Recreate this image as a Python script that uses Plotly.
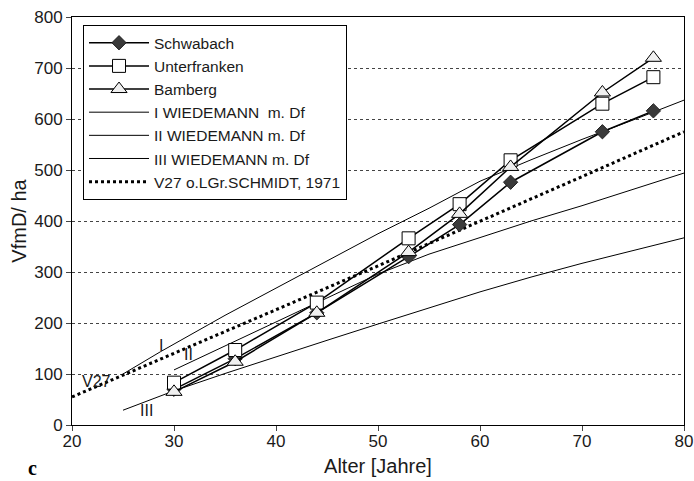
import plotly.graph_objects as go

# Data
ages = [30, 36, 44, 53, 58, 63, 72, 77]
schwabach = [70, 130, 220, 330, 393, 476, 575, 616]
unterfranken = [83, 147, 240, 366, 433, 519, 630, 682]
bamberg = [65, 124, 220, 339, 414, 506, 652, 720]

wied_I_x = [25, 28.7, 35, 40, 45, 50, 55, 60, 65, 70, 75, 80]
wied_I_y = [100, 144, 215, 268, 322, 375, 425, 478, 520, 560, 598, 637]
wied_II_x = [30, 35, 40, 45, 50, 55, 60, 65, 70, 75, 80]
wied_II_y = [108, 155, 203, 250, 296, 335, 368, 400, 430, 462, 494]
wied_III_x = [25, 30, 35, 40, 45, 50, 55, 60, 65, 70, 75, 80]
wied_III_y = [29, 67, 101, 134, 166, 198, 230, 261, 290, 317, 342, 367]
v27_x = [20, 30, 40, 50, 60, 70, 80]
v27_y = [55, 140, 226, 312, 399, 487, 575]

x_ticks = [20, 30, 40, 50, 60, 70, 80]
y_ticks = [0, 100, 200, 300, 400, 500, 600, 700, 800]

FONT = "Liberation Sans, Arial, sans-serif"
TXT = "#1a1a1a"

fig = go.Figure()

# Reference curves (drawn below data)
fig.add_trace(go.Scatter(x=wied_I_x, y=wied_I_y, mode="lines", name="I WIEDEMANN  m. Df",
                         line=dict(color="black", width=1), legendrank=4))
fig.add_trace(go.Scatter(x=wied_II_x, y=wied_II_y, mode="lines", name="II WIEDEMANN m. Df",
                         line=dict(color="black", width=1), legendrank=5))
fig.add_trace(go.Scatter(x=wied_III_x, y=wied_III_y, mode="lines", name="III WIEDEMANN m. Df",
                         line=dict(color="black", width=1), legendrank=6))
fig.add_trace(go.Scatter(x=v27_x, y=v27_y, mode="lines", name="V27 o.LGr.SCHMIDT, 1971",
                         line=dict(color="black", width=3, dash="dot"), legendrank=7))

# Data series
fig.add_trace(go.Scatter(x=ages, y=schwabach, mode="lines+markers", name="Schwabach",
                         line=dict(color="black", width=1.5),
                         marker=dict(symbol="diamond", size=11, color="#3a3a3a",
                                     line=dict(color="#222", width=1)), legendrank=1))
fig.add_trace(go.Scatter(x=ages, y=unterfranken, mode="lines+markers", name="Unterfranken",
                         line=dict(color="black", width=1.5),
                         marker=dict(symbol="square", size=13, color="white",
                                     line=dict(color="black", width=1)), legendrank=2))
fig.add_trace(go.Scatter(x=ages, y=bamberg, mode="lines+markers", name="Bamberg",
                         line=dict(color="black", width=1.5),
                         marker=dict(symbol="triangle-up", size=14, color="#f0f0f0",
                                     line=dict(color="black", width=1)), legendrank=3))

annots = [
    dict(x=28.7, y=155, text="I"),
    dict(x=31.4, y=138, text="II"),
    dict(x=27.3, y=28, text="III"),
    dict(x=22.4, y=86, text="V27"),
]
for a in annots:
    fig.add_annotation(x=a["x"], y=a["y"], text=a["text"], showarrow=False,
                       xref="x", yref="y", font=dict(family=FONT, size=16, color=TXT))

fig.add_annotation(x=-0.064, y=-0.105, xref="paper", yref="paper", text="<b>c</b>",
                   showarrow=False, xanchor="center", yanchor="middle",
                   font=dict(family="Liberation Serif, Times New Roman, serif", size=20, color="black"))

fig.update_layout(
    width=694, height=481,
    margin=dict(l=72, r=10, t=17, b=56, autoexpand=False),
    paper_bgcolor="white", plot_bgcolor="white",
    font=dict(family=FONT, size=16, color=TXT),
    showlegend=True,
    legend=dict(x=0.018, y=0.98, xanchor="left", yanchor="top",
                bgcolor="white", bordercolor="black", borderwidth=1,
                font=dict(family=FONT, size=15.5, color=TXT),
                itemwidth=60, tracegroupgap=0),
)
fig.update_xaxes(range=[20, 80], tickvals=x_ticks, ticks="outside", ticklen=5,
                 showline=True, linecolor="black", linewidth=1, mirror=True,
                 showgrid=False, zeroline=False, automargin=False, ticklabelstandoff=-4,
                 tickfont=dict(family=FONT, size=17, color=TXT),
                 title=dict(text="Alter [Jahre]", font=dict(family=FONT, size=20, color=TXT), standoff=8))
fig.update_yaxes(range=[0, 800], tickvals=y_ticks, ticks="outside", ticklen=5,
                 showline=True, linecolor="black", linewidth=1, mirror=True,
                 showgrid=True, gridcolor="#444", gridwidth=1, griddash="3px,3px", zeroline=False,
                 automargin=False,
                 tickfont=dict(family=FONT, size=17, color=TXT),
                 title=dict(text="VfmD/ ha", font=dict(family=FONT, size=20, color=TXT), standoff=2))

fig.write_html("out.html", config={"displayModeBar": False},
               post_script="document.body.style.margin='0px';document.body.style.overflow='hidden';")
